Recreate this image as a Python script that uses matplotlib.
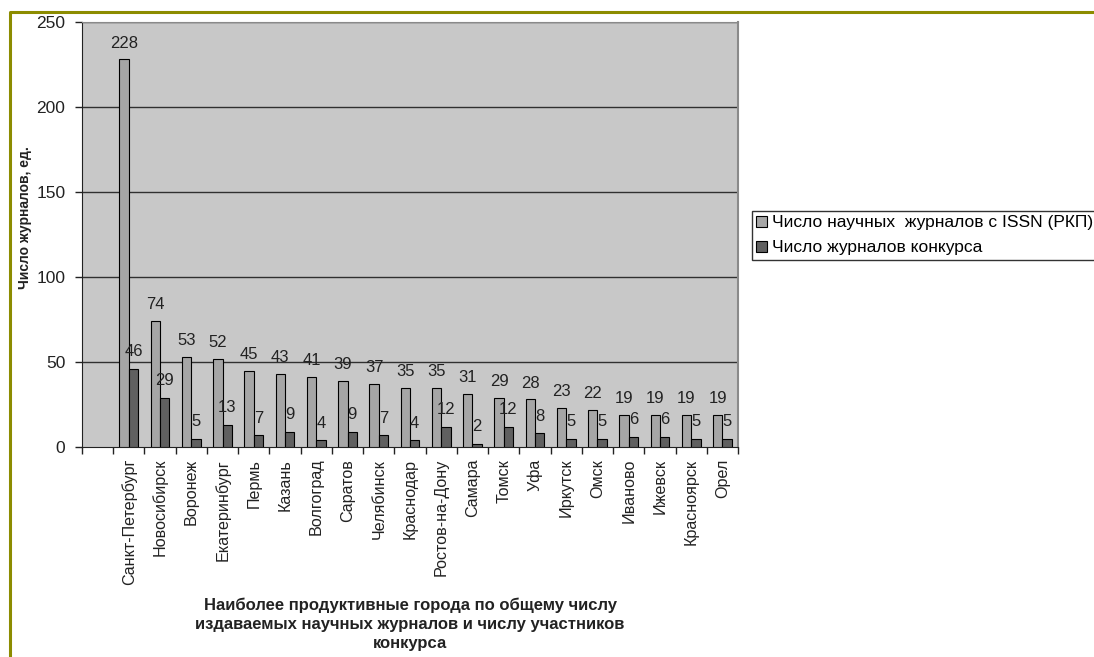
import matplotlib
matplotlib.use("Agg")
import matplotlib.pyplot as plt
from matplotlib.lines import Line2D
from matplotlib.patches import Patch
import numpy as np

plt.rcParams['font.family'] = ['Liberation Sans', 'DejaVu Sans']

cities = ["Санкт-Петербург", "Новосибирск", "Воронеж", "Екатеринбург", "Пермь",
          "Казань", "Волгоград", "Саратов", "Челябинск", "Краснодар",
          "Ростов-на-Дону", "Самара", "Томск", "Уфа", "Иркутск", "Омск",
          "Иваново", "Ижевск", "Красноярск", "Орел"]
issn_journals = [228, 74, 53, 52, 45, 43, 41, 39, 37, 35, 35, 31, 29, 28, 23, 22, 19, 19, 19, 19]
contest_journals = [46, 29, 5, 13, 7, 9, 4, 9, 7, 4, 12, 2, 12, 8, 5, 5, 6, 6, 5, 5]
y_ticks = [0, 50, 100, 150, 200, 250]

series_names = ["Число научных  журналов с ISSN (РКП)", "Число журналов конкурса"]
light_col = "#a6a6a6"
dark_col = "#606060"
bg_col = "#c8c8c8"
text_col = "#222222"

W, H = 1094, 657
fig = plt.figure(figsize=(W / 100, H / 100), dpi=100)
ax = fig.add_axes([82 / W, 1 - 447 / H, (738 - 82) / W, (447 - 22) / H])
ax.set_facecolor(bg_col)

# first category slot is left empty
x = np.arange(1, len(cities) + 1)
bw = 0.3
ax.bar(x - bw / 2, issn_journals, bw, color=light_col, edgecolor="black", linewidth=0.8, zorder=3)
ax.bar(x + bw / 2, contest_journals, bw, color=dark_col, edgecolor="black", linewidth=0.8, zorder=3)

for xi, v in zip(x - bw / 2, issn_journals):
    ax.annotate(str(v), (xi, v), xytext=(0, 8.5), textcoords="offset points",
                ha="center", va="baseline", fontsize=12, color=text_col, zorder=5)
for xi, v in zip(x + bw / 2, contest_journals):
    ax.annotate(str(v), (xi, v), xytext=(0, 9), textcoords="offset points",
                ha="center", va="baseline", fontsize=12, color=text_col, zorder=5)

ax.set_xlim(-0.5, len(cities) + 0.5)
ax.set_ylim(0, 250)
ax.set_yticks(y_ticks)
ax.set_yticklabels([str(t) for t in y_ticks], fontsize=12.5, color=text_col)
ax.tick_params(axis="y", direction="out", length=5, width=1, pad=7, color=text_col)

ax.set_xticks(np.arange(-0.5, len(cities) + 1.0, 1.0))
ax.set_xticklabels([])
ax.tick_params(axis="x", which="major", direction="out", length=5, width=1, color=text_col)
ax.set_xticks(x, minor=True)
ax.set_xticklabels(cities, minor=True, rotation=90, fontsize=11.6, color=text_col)
ax.tick_params(axis="x", which="minor", length=0, pad=8.5)

for yv in y_ticks[1:]:
    ax.axhline(yv, color="#303030", linewidth=1, zorder=1)

ax.spines["left"].set_color(text_col)
ax.spines["bottom"].set_color(text_col)
ax.spines["top"].set_color("#8a8a8a")
ax.spines["right"].set_color("#8a8a8a")
ax.spines["right"].set_linewidth(1.5)

fig.text(25 / W, 1 - 218 / H, "Число журналов, ед.", rotation=90, ha="center", va="center",
         fontsize=10, fontweight="bold", color=text_col)
fig.text(410 / W, 1 - 598 / H,
         "Наиболее продуктивные города по общему числу\nиздаваемых научных журналов и числу участников\nконкурса",
         ha="center", va="top", fontsize=12, fontweight="bold", color=text_col, linespacing=1.33)

handles = [Patch(facecolor=light_col, edgecolor="black", linewidth=0.8),
           Patch(facecolor=dark_col, edgecolor="black", linewidth=0.8)]
leg = fig.legend(handles, series_names, loc="upper left", bbox_to_anchor=(752 / W, 1 - 211 / H),
                 fontsize=12.5, frameon=True, fancybox=False, handlelength=0.6, handleheight=0.6,
                 handletextpad=0.3, borderpad=0.25, labelspacing=0.58, borderaxespad=0)
leg.get_frame().set_edgecolor("black")
leg.get_frame().set_linewidth(1)

# olive frame along the left and top edges
olive = "#8c8c00"
fig.add_artist(Line2D([9.5 / W, 9.5 / W, 1.0], [0.0, 1 - 11.5 / H, 1 - 11.5 / H],
                      transform=fig.transFigure, color=olive, linewidth=2.2))

fig.savefig("out.png", dpi=100)
